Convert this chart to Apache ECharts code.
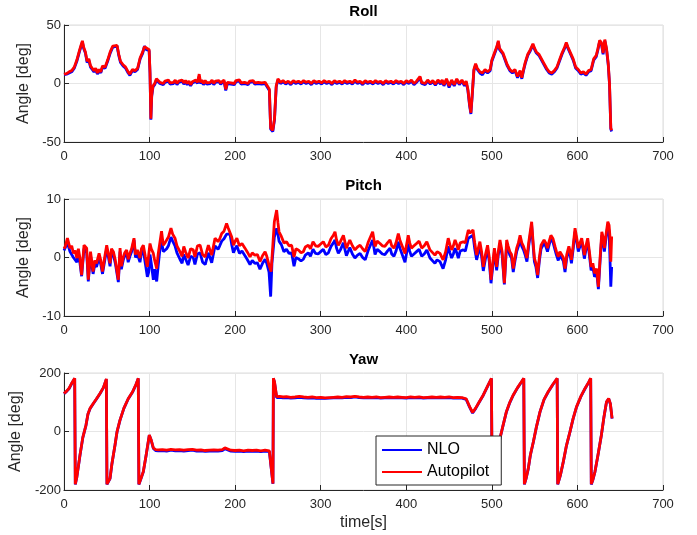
<!DOCTYPE html>
<html>
<head>
<meta charset="utf-8">
<script src="https://cdn.jsdelivr.net/npm/echarts@6/dist/echarts.min.js"></script>
<style>
  html, body { margin: 0; padding: 0; background: #fff; }
  #plot { width: 697px; height: 535px; }
</style>
</head>
<body>
<div id="plot"></div>
<script>
// Panel titles and axis ranges
const panelTitles = ["Roll", "Pitch", "Yaw"];
const yRanges = [[-50, 50, 50], [-10, 10, 10], [-200, 200, 200]];
const xTicks = [0, 700, 100];

// ROLL  [time, angle]
const rollAutopilot = [[0,8],[3,8.5],[6,10],[9,11],[12,14],[15,20],[18,28],[20,33],[21.5,36.5],[23,31],[25,27],[27,19],[29,21],[31,15],[33,13],[35,11],[37,13],[39,9],[41,12],[43,10],[45,15],[48,14],[51,20],[54,27],[57,32],[59,33],[62,32.5],[64,25],[66,19],[69,16],[72,14],[75,10],[77,8],[80,12],[83,11],[86,13],[89,22],[92,27],[94,31.5],[96,30],[99.5,29],[100.5,10],[101.5,-30],[102.5,-10],[104,-2],[106,0],[108,4],
  [110,3],[112,1],[114,2.5],[116,0],[118,2],[120,1],[122,3],[124,0.5],[126,2],[128,1],[130,3],[132,0],[134,2],[136,1],[138,3],[140,0.5],[142,2.5],[144,0],[146,2],[148,-1],[150,1.5],[152,0.5],[154,3],[156,1],[158,8],[159.5,1],[161,3],[163,0],[165,2.5],[167,0.5],[169,2],[171,1],[173,3],[175,0],[177,2],[179,1],[181,2.5],[183,0.5],[185,2],[187,3],[189,-5],[191,1],[193,2.5],[195,0.5],[197,2],[199,0],[201,2.5],[203,1],[205,3],[207,0.5],[209,2],[211,1],[213,2.5],[215,0],[217,2],[219,1],[221,2.5],[223,0.5],[225,2],[227,1],[229,2.5],[231,0.5],[233,2],[235,1],[237,2],
  [240,-5],[241.5,-38],[244,-40],[246,-30],[248,-2],
  [250,4],[253,1],[256,2.5],[259,0.5],[262,2],[265,0],[268,2.5],[271,1],[274,2],[277,0.5],[280,2.5],[283,1],[286,2],[289,0],[292,2.5],[295,1],[298,2],[301,0.5],[304,2.5],[307,1],[310,2],[313,0],[316,2.5],[319,1],[322,2],[325,0.5],[328,2.5],[331,1],[334,2],[337,0.5],[340,3],[343,1],[346,2],[349,0],[352,2.5],[355,1],[358,2],[361,0.5],[364,2.5],[367,1],[370,2],[373,0],[376,2.5],[379,1],[382,2],[385,0.5],[388,2.5],[391,1],[394,2],[397,0],[400,2.5],[403,1],[406,3],[409,0],[412,2],[414,1],[416,6],[418,1],[420,2.5],[422,0],[425,3],[428,0.5],[431,2.5],[434,-0.5],[437,3],[440,0.5],[442,3],[444,-1],[447,4],[450,-2],[453,3],[456,-1],[459,4],[462,0],[465,3],[468,-1],[470,2],
  [472,-5],[474,-18],[475.5,-25],[477,-10],[479,12],[481,17],[483,13],[486,10],[489,9],[492,12],[495,10],[498,12],[500,20],[503,26],[506,32],[507.5,36.5],[509,30],[511,31],[513,26],[515,22],[518,16],[521,12],[524,10],[527,12],[530,6],[533,11],[535,5],[537,12],[539,18],[542,25],[545,29],[548,34],[550,30],[552,27],[555,25],[558,21],[561,17],[564,13],[567,10],[570,9],[573,11],[576,14],[579,20],[582,26],[585,31],[587,35],[589,31],[592,26],[595,21],[598,14],[601,12],[604,9],[607,10],[610,8],[613,11],[616,12],[619,21],[622,24],[624,30],[626,37],[628,35],[630,26],[632,37.5],[634,30],[636,17],[637.5,0],[639,-38],[640,-40]];
const rollNLO = [[0,7.5],[3,8],[6,9],[9,10],[12,13],[15,19],[18,27],[20,32],[21.5,35.5],[23,30],[25,26],[27,18],[29,20],[31,14],[33,12],[35,10],[37,12],[39,8],[41,11],[43,9],[45,14],[48,13],[51,19],[54,26],[57,31],[59,32],[62,32],[64,24],[66,18],[69,15],[72,13],[75,9],[77,7],[80,11],[83,10],[86,12],[89,21],[92,26],[94,32],[96,29],[99.5,28],[100.5,9],[101.5,-31],[102.5,-11],[104,-3],[106,-1],[108,3],
  [110,2],[112,0],[114,1.5],[116,-1],[118,1],[120,0],[122,2],[124,-0.5],[126,1],[128,0],[130,2],[132,-1],[134,1],[136,0],[138,2],[140,-0.5],[142,1.5],[144,-1],[146,1],[148,-2],[150,0.5],[152,-0.5],[154,2],[156,0],[158,6],[159.5,0],[161,2],[163,-1],[165,1.5],[167,-0.5],[169,1],[171,0],[173,2],[175,-1],[177,1],[179,0],[181,1.5],[183,-0.5],[185,1],[187,2],[189,-6],[191,0],[193,1.5],[195,-0.5],[197,1],[199,-1],[201,1.5],[203,0],[205,2],[207,-0.5],[209,1],[211,0],[213,1.5],[215,-1],[217,1],[219,0],[221,1.5],[223,-0.5],[225,1],[227,0],[229,1.5],[231,-0.5],[233,1],[235,0],[237,1],
  [240,-6],[241.5,-39],[244,-41],[246,-31],[248,-3],
  [250,3],[253,0],[256,1.5],[259,-0.5],[262,1],[265,-1],[268,1.5],[271,0],[274,1],[277,-0.5],[280,1.5],[283,0],[286,1],[289,-1],[292,1.5],[295,0],[298,1],[301,-0.5],[304,1.5],[307,0],[310,1],[313,-1],[316,1.5],[319,0],[322,1],[325,-0.5],[328,1.5],[331,0],[334,1],[337,-0.5],[340,2],[343,0],[346,1],[349,-1],[352,1.5],[355,0],[358,1],[361,-0.5],[364,1.5],[367,0],[370,1],[373,-1],[376,1.5],[379,0],[382,1],[385,-0.5],[388,1.5],[391,0],[394,1],[397,-1],[400,1.5],[403,0],[406,2],[409,-1],[412,1],[414,0],[416,5],[418,0],[420,1.5],[422,-1],[425,2],[428,-0.5],[431,1.5],[434,-1.5],[437,2],[440,-0.5],[442,2],[444,-2],[447,3],[450,-3.5],[453,2],[456,-2],[459,3],[462,-1],[465,2],[468,-2],[470,1],
  [472,-6],[474,-19],[475.5,-26],[477,-11],[479,11],[481,16],[483,12],[486,9],[489,7.5],[492,11],[495,9],[498,11],[500,19],[503,25],[506,31],[507.5,35.5],[509,29],[511,30],[513,25],[515,21],[518,15],[521,11],[524,9],[527,11],[530,5],[533,10],[535,4],[537,11],[539,17],[542,24],[545,28],[548,33],[550,29],[552,26],[555,24],[558,20],[561,16],[564,12],[567,9],[570,8],[573,10],[576,13],[579,19],[582,25],[585,30],[587,34],[589,30],[592,25],[595,20],[598,13],[601,11],[604,8],[607,9],[610,7],[613,10],[616,11],[619,20],[622,23],[624,29],[626,36],[628,34],[630,25],[632,36.5],[634,29],[636,16],[637.5,-1],[639,-39],[640,-41]];

// PITCH  [time, angle]
const pitchAutopilot = [[0,1.5],[1.5,1.9],[4,3.3],[7,1.6],[9,2],[11,0.7],[13,1.2],[15,-0.1],[16.8,1.5],[18.5,0],[20.6,-3],[23.4,2.1],[26.5,1.6],[28.4,-3.8],[31,1],[34,-2.4],[36,-0.5],[38,-1],[41,0.7],[43,-0.5],[45,-2.4],[47.5,0],[49.9,2.1],[52,0.5],[53.8,-1],[55.5,1.5],[57.7,1],[60,-0.5],[63.5,-3.8],[65.5,1.6],[67,-1.5],[69.3,0.1],[71,0.8],[73.2,1.3],[75,-0.3],[77,0.7],[79,1.5],[81.8,3.3],[83.5,0.5],[85.7,1.3],[88.8,-0.1],[90.5,1.5],[92.7,2.1],[95,0.2],[97.4,-1.6],[100.5,2.4],[102,1.5],[104.4,0.7],[106,-0.5],[108.3,-1.9],[110,0.5],[112.2,2.7],[114,4.5],[116,2.1],[118,2.5],[120,2.7],[122,3.5],[125,5],[127,4],[129.7,3.3],[132,2],[135.5,1],[138,0.2],[140,1.9],[142,1],[145,-0.1],[148,1.5],[151,1.3],[153,0.1],[156,2],[159,2.1],[162,0.5],[165,0.1],[168.7,2.1],[172.6,0.4],[176.5,3.3],[180,2.7],[182,3.2],[184.3,4.1],[187,4.5],[190,5.8],[192,5],[194,5.3],[196,3.5],[198,2.1],[200,2.8],[202,3.3],[205,2],[208,2.4],[211.5,1.6],[214,1],[217.4,0.1],[220,0.8],[223,0.4],[226,0.5],[229,-0.7],[232,0.3],[235,1],[237,0.2],[239.6,-1.3],[242,-2.4],[244,2],[245.8,6.1],[248.5,8.1],[250,6],[251.3,4.4],[254,3.6],[257,2.5],[260,2.7],[263,2],[266,2.1],[268.8,0.1],[271,1.5],[273.8,1.3],[277,0.8],[279.7,1],[282,1.8],[285.5,2.1],[288,1.5],[291,2.7],[294,2],[297,1.9],[300,2.3],[303,2.7],[306,1.8],[309,2.1],[312,3.2],[314.8,3.8],[316.7,4.4],[318.5,3],[320.6,2.1],[323,2.7],[326.5,3.8],[330,1.6],[334,3],[337,2],[340,1.3],[343,1.8],[346,2.1],[349,1.5],[352,1],[355.7,2.7],[358,3],[360.7,4.4],[363.5,1.9],[366,2.8],[369.3,2.4],[372,2],[375,1.9],[378,2.5],[381,3],[383,2],[385.6,1.6],[388,2.5],[390.7,4.1],[392.5,3],[394.6,2.7],[398.5,0.7],[402.3,3.8],[404,2.5],[406,1.6],[409,2],[412,2.4],[415,2.8],[418,1.6],[421,2],[424,2.7],[427.7,1.3],[430,1.5],[433.5,0.4],[436,1],[439.4,0.7],[443,-0.4],[446,1],[449,3.3],[451,2.2],[453,1.3],[455,2],[457,3],[459,2.2],[460.8,1.3],[463,2.5],[466.6,2.7],[469,2.5],[472.5,4.7],[474.5,4.2],[478,4.7],[480,2.5],[482.2,0.4],[484,1.5],[486,2.7],[488,1],[490,-1.6],[492.5,0.5],[495,2.1],[497,0],[499,-3.8],[501,-1],[503,1.6],[505.6,-1.6],[507.5,1],[509.5,3],[512,1],[514.6,-4.4],[517.3,3],[519,2],[521,1],[523,0.5],[525,-1.9],[527,0],[529,1.6],[531,2.5],[533,3.8],[535,2.5],[537,1.9],[539,1],[541,-0.1],[543,2.5],[546.5,6.1],[548,3],[549.7,-0.1],[551.5,-1],[553.5,-3],[555.5,0],[557.5,2.1],[559,2.5],[561,3],[563,2.5],[565,1.6],[567,2.8],[569,3.8],[571.5,3.2],[573.8,1.9],[575.5,1],[577.6,0.1],[579.5,1],[581.6,1.3],[583.5,0],[585.5,-1.9],[587.5,0.5],[590,1.9],[591.5,1],[593,-0.4],[595,2],[597.2,5],[599,3.5],[601,1.6],[603,2.5],[605,3.3],[606.5,2],[608.1,0.4],[610,2],[612,3.3],[614,1],[616,-1.6],[618,-1],[620,-2.7],[622.5,-1.9],[624.5,-5],[626.5,0],[628.5,4.4],[630,3.5],[631.5,1.6],[633.5,4],[635.5,6.1],[637,5.5],[638,3.6],[639,-0.7],[640,3.6]];
const pitchNLO = [[0,1.2],[1.5,1.3],[4,2.5],[7,1],[9,1.2],[11,0],[13,0.3],[15,-0.8],[16.8,0.8],[18.5,-0.8],[20.6,-3.2],[23.4,1.5],[26.5,0.8],[28.4,-4.1],[31,0.3],[34,-2.8],[36,-1.2],[38,-1.6],[41,0],[43,-1.2],[45,-2.8],[47.5,-0.6],[49.9,1.5],[52,0],[53.8,-1.5],[55.5,1],[57.7,0.4],[60,-1],[63.5,-4.2],[65.5,1],[67,-2],[69.3,-0.4],[71,0.3],[73.2,0.8],[75,-0.8],[77,0.2],[79,1],[81.8,3],[83.5,0],[85.7,0.6],[88.8,-0.8],[90.5,0.8],[92.7,1.2],[95,-1],[97.4,-3.3],[99,-2.5],[100.5,0.5],[102,-1],[104.4,-3.8],[106,-2],[108.3,-4.1],[110,-1.5],[112.2,1.5],[114,2.8],[116,1],[118,1.2],[120,1.5],[122,2],[125,3.5],[127,2.8],[129.7,2],[132,0.8],[135.5,-0.3],[138,-1],[140,0.5],[142,-0.2],[145,-1.3],[148,0.2],[151,0],[153,-1.2],[156,0.6],[159,0.8],[162,-0.8],[165,-1.2],[168.7,0.8],[172.6,-0.9],[176.5,2],[180,1.4],[182,2],[184.3,2.8],[187,3.2],[190,4],[192,3.8],[194,4],[196,2.2],[198,0.8],[200,1.5],[202,2],[205,0.7],[208,1.1],[211.5,0.3],[214,-0.3],[217.4,-1.2],[220,-0.5],[223,-1],[226,-0.9],[229,-2],[232,-1],[235,-0.3],[237,-1],[239.6,-2.5],[241.5,-6.7],[243,-1],[245.8,3.5],[248.5,5],[250,4],[251.3,2.8],[254,2.2],[257,1],[260,1.4],[263,0.7],[266,0.8],[268.8,-1.5],[271,0],[273.8,-0.2],[277,-0.6],[279.7,-0.3],[282,0.4],[285.5,0.8],[288,0.2],[291,1.4],[294,0.7],[297,0.6],[300,1],[303,1.4],[306,0.5],[309,0.8],[312,1.9],[314.8,2.5],[316.7,3],[318.5,1.6],[320.6,0.7],[323,1.3],[326.5,2.5],[330,0.3],[334,1.7],[337,0.6],[340,-0.1],[343,0.4],[346,0.7],[349,0],[352,-0.4],[355.7,1.3],[358,1.6],[360.7,3],[363.5,0.5],[366,1.4],[369.3,1],[372,0.6],[375,0.5],[378,1.1],[381,1.6],[383,0.6],[385.6,0.2],[388,1.1],[390.7,2.7],[392.5,1.6],[394.6,1.3],[398.5,-0.8],[402.3,2.4],[404,1.1],[406,0.2],[409,0.6],[412,1],[415,1.4],[418,0.2],[421,0.6],[424,1.3],[427.7,-0.1],[430,0],[433.5,-1],[436,-0.4],[439.4,-0.7],[443,-1.9],[446,-0.4],[449,1.9],[451,0.8],[453,-0.1],[455,0.6],[457,1.6],[459,0.8],[460.8,-0.1],[463,1.1],[466.6,1.3],[469,1.1],[472.5,3.3],[474.5,3],[478,3.8],[480,1.5],[482.2,-0.4],[484,0.7],[486,1.9],[488,0.2],[490,-2.3],[492.5,-0.2],[495,1.4],[497,-0.7],[499,-4.4],[501,-1.6],[503,1],[505.6,-2.2],[507.5,0.4],[509.5,2.4],[512,0.4],[514.6,-4.6],[517.3,2.4],[519,1.4],[521,0.4],[523,-0.1],[525,-2.5],[527,-0.6],[529,1],[531,1.9],[533,3.2],[535,1.9],[537,1.3],[539,0.4],[541,-0.7],[543,1.9],[546.5,5.5],[548,2.4],[549.7,-0.7],[551.5,-1.6],[553.5,-3.5],[555.5,-0.6],[557.5,1.5],[559,1.9],[561,2.4],[563,1.9],[565,1],[567,2.2],[569,3.2],[571.5,2.6],[573.8,1.3],[575.5,0.4],[577.6,-0.5],[579.5,0.4],[581.6,0.7],[583.5,-0.6],[585.5,-2.5],[587.5,-0.1],[590,1.3],[591.5,0.4],[593,-1],[595,1.4],[597.2,4.4],[599,2.9],[601,1],[603,1.9],[605,2.7],[606.5,1.4],[608.1,-0.2],[610,1.4],[612,2.7],[614,0.4],[616,-2.2],[618,-1.6],[620,-3.3],[622.5,-2.5],[624.5,-5.4],[626.5,-0.6],[628.5,3.8],[630,2.9],[631.5,1],[633.5,3.4],[635.5,5.5],[637,4.5],[638,0],[639,-5],[640,-1.6]];

// YAW  [time, angle]
const yawAutopilot = [[0,130],[3,138],[6,148],[9,165],[12.5,182],[13.2,-180],[15,-155],[18.7,-80],[22,-20],[25.7,22],[28,60],[30.4,79],[34,95],[38,112],[42,130],[46,150],[49.5,180],[50.2,-180],[53.8,-160],[56,-110],[59.6,-46],[62,0],[65.4,39],[70,80],[75,112],[80,135],[84,160],[86.8,182],[87.5,-180],[90,-160],[92.7,-137],[96,-80],[99.7,-12],[100.5,-8],[102,-30],[104.4,-56],[107,-62],[110,-63],[115,-62],[120,-64],[125,-61],[130,-63],[135,-62],[140,-64],[145,-62],[150,-61],[155,-64],[160,-63],[165,-65],[170,-64],[175,-63],[180,-64],[185,-62],[188,-56],[190,-60],[195,-64],[200,-65],[205,-64],[210,-66],[215,-64],[220,-65],[225,-64],[230,-66],[235,-64],[240,-66],[242,-120],[244.2,-178],[244.7,182],[246,170],[248.5,119],[252,120],[256,118],[260,119],[265,117],[270,118],[275,120],[280,118],[285,117],[290,118],[295,116],[300,117],[305,115],[310,116],[315,117],[320,118],[325,117],[330,119],[335,118],[340,120],[345,118],[350,117],[355,118],[360,117],[365,118],[370,116],[375,117],[380,118],[385,117],[390,118],[395,117],[400,116],[405,118],[410,117],[415,118],[420,116],[425,117],[430,118],[435,117],[440,118],[445,117],[450,118],[455,116],[460,117],[465,116],[470,112],[474,85],[477.5,65],[481,80],[485,100],[490,125],[495,155],[499.5,182],[500.3,-180],[503,-130],[506,-70],[509.5,-23],[513,20],[517,68],[521,100],[525,125],[530,150],[535,172],[537.3,182],[538,-180],[540,-160],[542.6,-126],[545,-80],[548.5,-35],[552,15],[556.3,68],[561,110],[566,137],[571,160],[576.3,182],[577,-180],[580,-150],[583.5,-103],[587,-50],[591.3,-0.5],[595,45],[599,85],[604,120],[609,148],[613,168],[615.5,182],[616.2,-180],[618,-165],[620.5,-137],[624,-80],[628,-12],[631,50],[634,102],[636.5,113],[638.5,95],[640.5,45]];
const yawNLO = [[0,129],[3,137],[6,147],[9,164],[12.5,181],[13.2,-181],[15,-156],[18.7,-81],[22,-21],[25.7,21],[28,59],[30.4,78],[34,94],[38,111],[42,129],[46,149],[49.5,179],[50.2,-181],[53.8,-161],[56,-111],[59.6,-47],[62,-1],[65.4,38],[70,79],[75,111],[80,134],[84,159],[86.8,181],[87.5,-181],[90,-161],[92.7,-138],[96,-81],[99.7,-13],[100.5,-9],[102,-31],[104.4,-58],[107,-65],[110,-66],[115,-65],[120,-67],[125,-64],[130,-66],[135,-65],[140,-67],[145,-65],[150,-64],[155,-67],[160,-66],[165,-68],[170,-67],[175,-66],[180,-67],[185,-65],[188,-59],[190,-63],[195,-67],[200,-68],[205,-67],[210,-69],[215,-67],[220,-68],[225,-67],[230,-69],[235,-67],[240,-69],[242,-122],[244.2,-179],[244.7,181],[246,168],[248.5,116],[252,117],[256,115],[260,116],[265,114],[270,115],[275,117],[280,115],[285,114],[290,115],[295,113],[300,114],[305,113],[310,114],[315,115],[320,116],[325,115],[330,117],[335,116],[340,118],[345,116],[350,115],[355,116],[360,115],[365,116],[370,114],[375,115],[380,116],[385,115],[390,116],[395,115],[400,114],[405,116],[410,115],[415,116],[420,114],[425,115],[430,116],[435,115],[440,116],[445,115],[450,116],[455,114],[460,115],[465,114],[470,110],[474,83],[477.5,63],[481,78],[485,99],[490,124],[495,154],[499.5,181],[500.3,-181],[503,-131],[506,-71],[509.5,-24],[513,19],[517,67],[521,99],[525,124],[530,149],[535,171],[537.3,181],[538,-181],[540,-161],[542.6,-127],[545,-81],[548.5,-36],[552,14],[556.3,67],[561,109],[566,136],[571,159],[576.3,181],[577,-181],[580,-151],[583.5,-104],[587,-51],[591.3,-1.5],[595,44],[599,84],[604,119],[609,147],[613,167],[615.5,181],[616.2,-181],[618,-166],[620.5,-138],[624,-81],[628,-13],[631,49],[634,101],[636.5,112],[638.5,94],[640.5,44]];

const nloData = [rollNLO, pitchNLO, yawNLO];
const autopilotData = [rollAutopilot, pitchAutopilot, yawAutopilot];

const plotElement = document.getElementById("plot");
const chart = echarts.init(plotElement);

const fontFamily = "'Liberation Sans', Arial, Helvetica, sans-serif";
const darkText = "#262626";
const gridTops = [25, 199, 373];

// GRIDS
const grids = gridTops.map(top => ({
    left: 64, top: top, width: 599, height: 117,
    show: true, borderColor: "#dcdcdc", borderWidth: 1
}));

// XAXES
const xAxes = gridTops.map((t, i) => ({
    type: "value", gridIndex: i,
    min: xTicks[0], max: xTicks[1], interval: xTicks[2],
    name: i === 2 ? "time[s]" : "",
    nameLocation: "middle", nameGap: 25,
    nameTextStyle: { fontFamily, fontSize: 16, color: darkText },
    axisLine: { show: true, onZero: false, lineStyle: { color: darkText, width: 1 } },
    axisTick: { show: true, inside: true, length: 5, lineStyle: { color: darkText } },
    axisLabel: { fontFamily, fontSize: 13, color: darkText, margin: 8 },
    splitLine: { show: true, lineStyle: { color: "#e6e6e6", width: 1 } }
}));

// YAXES
const yAxes = yRanges.map((r, i) => ({
    type: "value", gridIndex: i,
    min: r[0], max: r[1], interval: r[2],
    name: "Angle [deg]",
    nameLocation: "middle", nameGap: i === 2 ? 34 : 29,
    nameTextStyle: { fontFamily, fontSize: 16, color: darkText },
    axisLine: { show: true, onZero: false, lineStyle: { color: darkText, width: 1 } },
    axisTick: { show: true, inside: true, length: 5, lineStyle: { color: darkText } },
    axisLabel: { fontFamily, fontSize: 13, color: darkText, margin: 3 },
    splitLine: { show: true, lineStyle: { color: "#e6e6e6", width: 1 } }
}));

// TITLES
const titles = panelTitles.map((text, i) => ({
    text: text, left: 363.5, textAlign: "center", top: gridTops[i] - 21, padding: 0,
    textStyle: { fontFamily, fontSize: 15, fontWeight: "bold", color: "#000" }
}));

// SERIES
function lineSeries (name, data, idx, color) {
    return {
        name: name, type: "line", xAxisIndex: idx, yAxisIndex: idx,
        data: data, symbol: "none", showSymbol: false,
        lineStyle: { color: color, width: 2.8 }, itemStyle: { color: color },
        animation: false
    };
}
const series = [];
for (let i = 0; i < 3; i++) {
    series.push(lineSeries("NLO", nloData[i], i, "#0000ff"));
    series.push(lineSeries("Autopilot", autopilotData[i], i, "#ff0000"));
}

const option = {
    backgroundColor: "#fff",
    animation: false,
    title: titles,
    grid: grids,
    xAxis: xAxes,
    yAxis: yAxes,
    series: series,
    // LEGEND
    legend: {
        data: ["NLO", "Autopilot"],
        orient: "vertical", left: 376, top: 436,
        icon: "rect", itemWidth: 40, itemHeight: 2, itemGap: 6,
        padding: [6, 12, 5, 6],
        backgroundColor: "#fff", borderColor: darkText, borderWidth: 1, borderRadius: 0,
        textStyle: { fontFamily, fontSize: 16, color: "#000", lineHeight: 16 },
        selectedMode: false
    }
};

chart.setOption(option);
</script>
</body>
</html>
